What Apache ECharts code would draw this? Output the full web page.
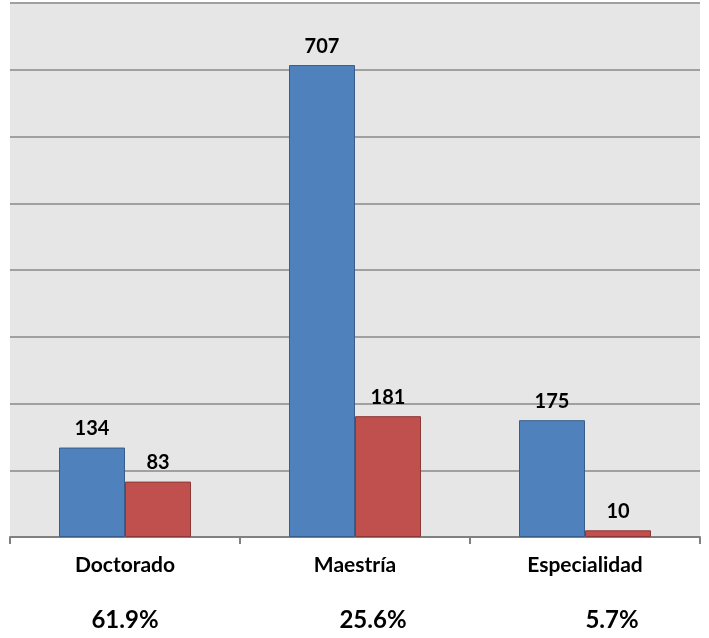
<!DOCTYPE html>
<html>
<head>
<meta charset="utf-8">
<script src="https://cdn.jsdelivr.net/npm/echarts@6/dist/echarts.min.js"></script>
<style>
html,body{margin:0;padding:0;background:#fff;}
#c{width:709px;height:638px;}
</style>
</head>
<body>
<div id="c"></div>
<script>
var categories = ['Doctorado', 'Maestría', 'Especialidad'];
var seriesA = [134, 707, 175];
var seriesB = [83, 181, 10];
var percents = ['61.9%', '25.6%', '5.7%'];
var percentOffsets = [0, 18, 27];

var chart = echarts.init(document.getElementById('c'));
var font = 'Lato, "Liberation Sans", sans-serif';
var labelStyle = {show: true, position: 'top', distance: 9, color: '#000', fontFamily: font, fontWeight: 'bold', fontSize: 20};
chart.setOption({
  animation: false,
  grid: {left: 10, right: 9, top: 3, bottom: 101, show: true, backgroundColor: '#e6e6e6', borderWidth: 0},
  xAxis: {
    type: 'category', data: categories,
    axisLine: {lineStyle: {color: '#808080', width: 2}},
    axisTick: {show: true, length: 7, lineStyle: {color: '#808080', width: 2}},
    axisLabel: {color: '#000', fontFamily: font, fontWeight: 'bold', fontSize: 21, margin: 18}
  },
  yAxis: {
    type: 'value', min: 0, max: 800, interval: 100,
    axisLine: {show: false}, axisTick: {show: false}, axisLabel: {show: false},
    splitLine: {lineStyle: {color: '#a0a0a0', width: 2}}
  },
  series: [
    {type: 'bar', data: seriesA, barWidth: 66, barGap: '0%',
     itemStyle: {color: '#4F81BD', borderColor: '#385D8A', borderWidth: 1}, label: labelStyle},
    {type: 'bar', data: seriesB, barWidth: 66, barGap: '0%',
     itemStyle: {color: '#C0504D', borderColor: '#8C3836', borderWidth: 1}, label: labelStyle}
  ]
});

var g = percents.map(function (p, i) {
  var x = chart.convertToPixel({xAxisIndex: 0}, categories[i]);
  return {type: 'text', x: x + percentOffsets[i], y: 620,
    style: {text: p, fill: '#000', font: 'bold 24px ' + font, textAlign: 'center', textVerticalAlign: 'middle'}};
});
chart.setOption({graphic: g});
</script>
</body>
</html>
